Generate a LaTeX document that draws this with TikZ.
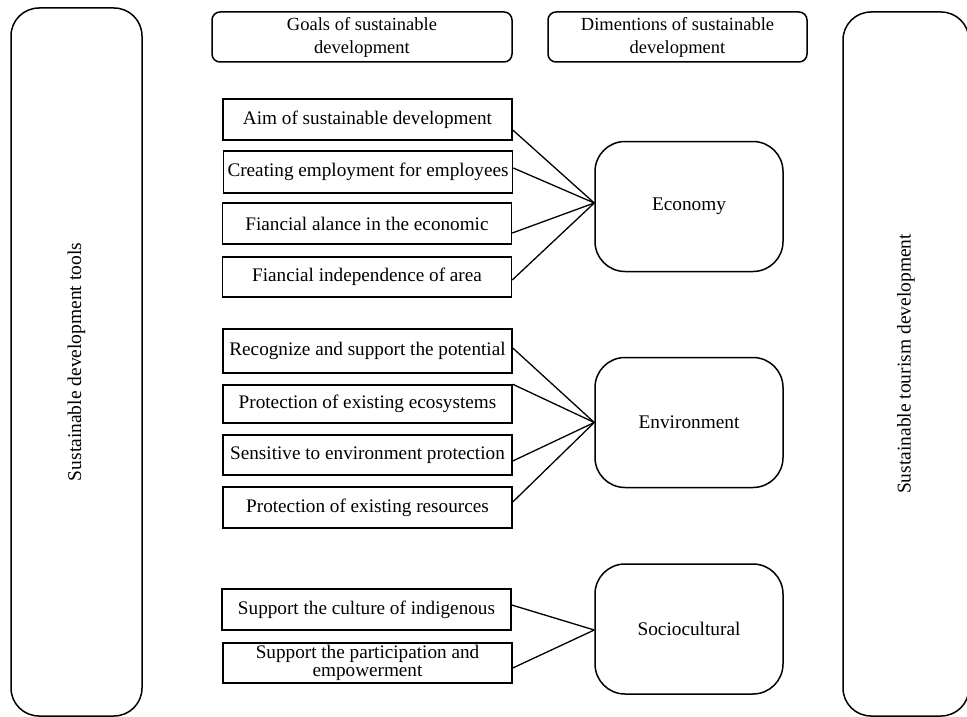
\documentclass[tikz,border=0pt]{standalone}
\usepackage{fontspec}
\setmainfont{Liberation Serif}
\begin{document}
\begin{tikzpicture}[x=1pt,y=-1pt,
  goal/.style={draw, line width=1.5pt, rectangle, minimum width=289pt, inner sep=0pt,
    font=\fontsize{19.2}{18}\selectfont, align=center},
  dim/.style={draw, line width=1.5pt, rectangle, rounded corners=30pt, minimum width=188pt,
    minimum height=130pt, inner sep=0pt, font=\fontsize{19.3}{22}\selectfont},
  head/.style={draw, line width=1.5pt, rectangle, rounded corners=8pt, minimum height=50pt,
    inner sep=0pt, font=\fontsize{18.5}{23}\selectfont, align=center},
  side/.style={draw, line width=1.5pt, rectangle, rounded corners=28pt, inner sep=0pt},
  sidetext/.style={rotate=90, font=\fontsize{19.5}{22}\selectfont, inner sep=0pt},
  link/.style={line width=1.3pt}]
\useasboundingbox (0,0) rectangle (967,717);
\clip (0,0) rectangle (967,717);
\fill[white] (0,0) rectangle (967,717);

% side boxes
\node[side, minimum width=131pt, minimum height=708pt] (left) at (76.5,362) {};
\node[side, minimum width=126pt, minimum height=704pt] (right) at (906,364) {};
\node[sidetext] (lefttext) at (left.center) {Sustainable development tools};
\node[sidetext] (righttext) at (right.center) {Sustainable tourism development};

% headers
\node[head, minimum width=300pt] (hgoal) at (362,37) {Goals of sustainable\\development};
\node[head, minimum width=259pt] (hdim) at (677.5,37) {Dimentions of sustainable\\development};

% economy
\node[goal, minimum height=41pt] (a1) at (367.5,119.5) {Aim of sustainable development};
\node[goal, minimum height=42pt] (a2) at (368,172) {Creating employment for employees};
\node[goal, minimum height=41pt] (a3) at (367,223.5) {Fiancial alance in the economic};
\node[goal, minimum height=40pt] (a4) at (367,277) {Fiancial independence of area};
\node[dim] (eco) at (689,206.5) {Economy};

% environment
\node[goal, minimum height=44pt] (b1) at (367.5,351) {Recognize and support the potential};
\node[goal, minimum height=38pt] (b2) at (367.5,404) {Protection of existing ecosystems};
\node[goal, minimum height=40pt] (b3) at (367.5,455) {Sensitive to environment protection};
\node[goal, minimum height=41pt] (b4) at (367.5,507.5) {Protection of existing resources};
\node[dim] (env) at (689,422.5) {Environment};

% sociocultural
\node[goal, minimum height=41pt] (c1) at (366.5,609.5) {Support the culture of indigenous};
\node[goal, minimum height=40pt] (c2) at (367.5,663) {Support the participation and\\empowerment};
\node[dim] (soc) at (689,629) {Sociocultural};

% connectors
\coordinate (ecoin) at ([yshift=3.5pt]eco.west);
\draw[link] ([yshift=-10.5pt]a1.east) -- (ecoin);
\draw[link] ([yshift=4pt]a2.east) -- (ecoin);
\draw[link] ([yshift=-9.5pt]a3.east) -- (ecoin);
\draw[link] ([yshift=-3pt]a4.east) -- (ecoin);

\draw[link] ([yshift=3pt]b1.east) -- (env.west);
\draw[link] (b2.north east) -- (env.west);
\draw[link] ([yshift=-6pt]b3.east) -- (env.west);
\draw[link] ([yshift=5.5pt]b4.east) -- (env.west);

\coordinate (socin) at ([yshift=-1pt]soc.west);
\draw[link] ([yshift=4.5pt]c1.east) -- (socin);
\draw[link] ([yshift=-5pt]c2.east) -- (socin);
\end{tikzpicture}
\end{document}
